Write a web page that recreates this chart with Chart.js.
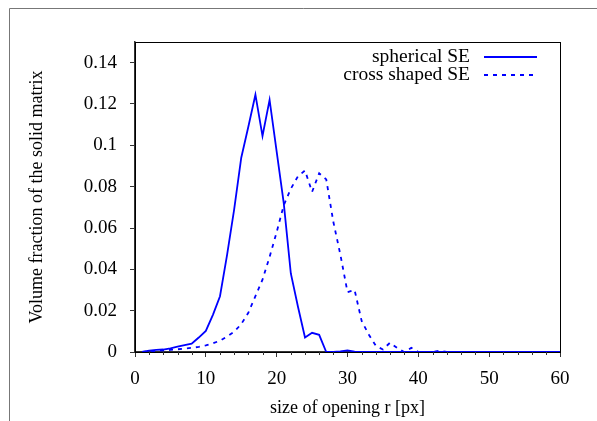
<!DOCTYPE html>
<html>
<head>
<meta charset="utf-8">
<script src="https://cdn.jsdelivr.net/npm/chart.js@4"></script>
<style>
  html, body { margin: 0; padding: 0; background: #fff; }
  #wrap { width: 597px; height: 421px; }
</style>
</head>
<body>
<div id="wrap"><canvas id="chart" width="597" height="421"></canvas></div>
<script>
// opening sizes r [px]
const radii = [1, 2, 3, 4, 5, 6, 7, 8, 9, 10, 11, 12, 13, 14, 15, 16, 17, 18, 19, 20,
    21, 22, 23, 24, 25, 26, 27, 28, 29, 30, 31, 32, 33, 34, 35, 36, 37, 38, 39, 40,
    41, 42, 43, 44, 45, 46, 47, 48, 49, 50, 51, 52, 53, 54, 55, 56, 57, 58, 59, 60];

const sphericalSE = [0, 0.0007, 0.001, 0.0012, 0.0018, 0.0026, 0.0033, 0.004, 0.007, 0.0102,
    0.018, 0.027, 0.047, 0.069, 0.094, 0.109, 0.1245, 0.1045, 0.122, 0.097,
    0.072, 0.038, 0.022, 0.007, 0.0093, 0.0083, 0, 0, 0.0003, 0.0008,
    0.0002, 0, 0, 0, 0, 0, 0, 0, 0, 0,
    0, 0, 0, 0, 0, 0, 0, 0, 0, 0,
    0, 0, 0, 0, 0, 0, 0, 0, 0, 0];

const crossSE = [0, 0.0003, 0.0005, 0.0008, 0.001, 0.0013, 0.0017, 0.002, 0.0025, 0.0032,
    0.0042, 0.0055, 0.0075, 0.0098, 0.0135, 0.019, 0.027, 0.035, 0.046, 0.058,
    0.071, 0.079, 0.085, 0.0878, 0.0775, 0.0865, 0.0835, 0.063, 0.047, 0.029,
    0.030, 0.015, 0.0085, 0.003, 0.0012, 0.0045, 0.002, 0, 0.002, 0,
    0, 0, 0.0006, 0, 0, 0, 0, 0, 0, 0,
    0, 0, 0, 0, 0, 0, 0, 0, 0, 0];

const xTicks = [0, 10, 20, 30, 40, 50, 60];
const xMinorTicks = [2, 4, 6, 8, 12, 14, 16, 18, 22, 24, 26, 28, 32, 34, 36, 38,
    42, 44, 46, 48, 52, 54, 56, 58];
const yTicks = [0, 0.02, 0.04, 0.06, 0.08, 0.1, 0.12, 0.14];
const yTickLabels = ["0", "0.02", "0.04", "0.06", "0.08", "0.1", "0.12", "0.14"];

const seriesNames = ["spherical SE", "cross shaped SE"];
const blue = "#0000ff";
const serif = "'Liberation Serif', 'Times New Roman', serif";

// outer figure frame, plot box and minor ticks
const framePlugin = {
    id: "frame",
    beforeDraw(chart) {
        const ctx = chart.ctx;
        ctx.save();
        ctx.fillStyle = "#fff";
        ctx.fillRect(0, 0, chart.width, chart.height);
        ctx.strokeStyle = "#777";
        ctx.lineWidth = 1;
        ctx.beginPath();
        ctx.moveTo(9.5, chart.height);
        ctx.lineTo(9.5, 8.5);
        ctx.lineTo(chart.width, 8.5);
        ctx.stroke();
        ctx.restore();
    },
    afterDraw(chart) {
        const ctx = chart.ctx;
        const a = chart.chartArea;
        const xs = chart.scales.x;
        ctx.save();
        ctx.strokeStyle = "#000";
        ctx.lineWidth = 1;
        ctx.strokeRect(a.left + 0.5, a.top + 0.5, a.right - a.left, a.bottom - a.top);
        ctx.strokeStyle = "#333";
        ctx.beginPath();
        xMinorTicks.forEach(v => {
            const px = Math.round(xs.getPixelForValue(v)) + 0.5;
            ctx.moveTo(px, a.bottom);
            ctx.lineTo(px, a.bottom + 3);
        });
        ctx.stroke();

        // legend: text then line sample, like gnuplot
        ctx.font = "19.5px " + serif;
        ctx.textAlign = "right";
        ctx.textBaseline = "middle";
        ctx.fillStyle = "#000";
        const rows = [57, 75];
        chart.data.datasets.forEach((ds, i) => {
            ctx.fillText(seriesNames[i], 470, rows[i]);
            ctx.strokeStyle = ds.borderColor;
            ctx.lineWidth = ds.borderWidth;
            ctx.setLineDash(ds.borderDash || []);
            ctx.beginPath();
            ctx.moveTo(484, rows[i]);
            ctx.lineTo(537, rows[i]);
            ctx.stroke();
        });
        ctx.restore();
    }
};

new Chart(document.getElementById("chart"), {
    type: "line",
    data: {
        datasets: [{
            label: seriesNames[0],
            data: radii.map((r, i) => ({ x: r, y: sphericalSE[i] })),
            borderColor: blue,
            borderWidth: 1.8,
            pointRadius: 0,
            tension: 0,
            fill: false
        }, {
            label: seriesNames[1],
            data: radii.map((r, i) => ({ x: r, y: crossSE[i] })),
            borderColor: blue,
            borderWidth: 1.8,
            borderDash: [4, 5],
            pointRadius: 0,
            tension: 0,
            fill: false
        }]
    },
    options: {
        responsive: false,
        animation: false,
        layout: { padding: { left: 0, top: 42, right: 37, bottom: 0 } },
        plugins: {
            legend: { display: false },
            tooltip: { enabled: false }
        },
        scales: {
            x: {
                type: "linear",
                min: 0,
                max: 60,
                afterFit: s => { s.height = 69; },
                afterBuildTicks: s => { s.ticks = xTicks.map(v => ({ value: v })); },
                grid: { drawOnChartArea: false, drawTicks: true, tickLength: 5, color: "#333" },
                border: { display: true, color: "#333", width: 1.5 },
                ticks: {
                    color: "#000",
                    font: { family: serif, size: 19 },
                    padding: 11,
                    maxRotation: 0
                },
                title: {
                    display: true,
                    text: "size of opening r [px]",
                    color: "#000",
                    font: { family: serif, size: 18 },
                    padding: { top: 0, bottom: 2 }
                }
            },
            y: {
                type: "linear",
                min: 0,
                max: 0.15,
                afterFit: s => { s.width = 135; },
                afterBuildTicks: s => { s.ticks = yTicks.map(v => ({ value: v })); },
                grid: { drawOnChartArea: false, drawTicks: true, tickLength: 5, color: "#333" },
                border: { display: true, color: "#333", width: 1.5 },
                ticks: {
                    color: "#000",
                    font: { family: serif, size: 19 },
                    padding: 13,
                    callback: (v, i) => yTickLabels[i]
                },
                title: {
                    display: true,
                    text: "Volume fraction of the solid matrix",
                    color: "#000",
                    font: { family: serif, size: 18 },
                    padding: { top: 26, bottom: 0 }
                }
            }
        }
    },
    plugins: [framePlugin]
});
</script>
</body>
</html>
